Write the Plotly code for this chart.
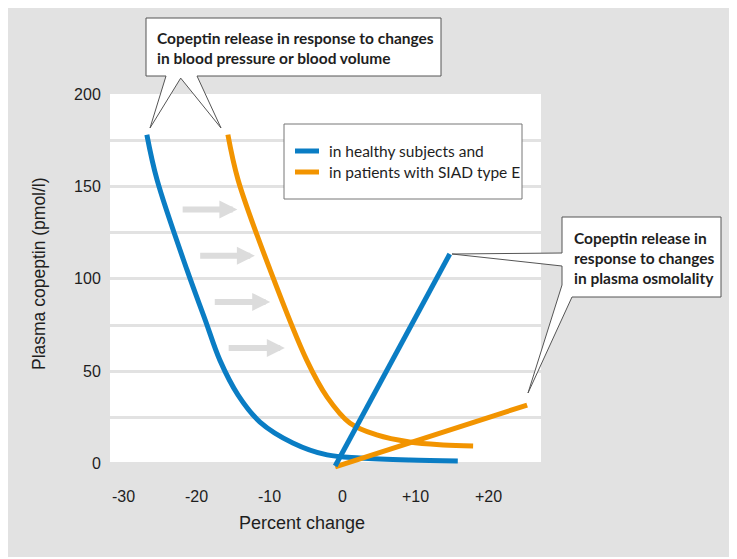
import plotly.graph_objects as go

# values
blue_x = [-26.8, -25.4, -21.3, -18.8, -16.8, -14.3, -11.3, -6.8, -2.1, 2.4, 9.2, 15.8]
blue_y = [178, 153.5, 104.8, 77.7, 56.0, 37.1, 22.5, 11.2, 4.7, 3.0, 1.9, 1.4]
orange_x = [-15.7, -14.3, -9.9, -4.9, -2.1, 1.0, 4.7, 9.2, 13.8, 17.9]
orange_y = [178, 153.5, 104.7, 56.0, 36.0, 22.0, 15.5, 11.7, 10.1, 9.5]
blue_osm_x = [-1.0, 14.7]
blue_osm_y = [-1.3, 113.4]
orange_osm_x = [-1.0, 25.3]
orange_osm_y = [-1.8, 31.7]

arrow_y = [137.5, 112.5, 87.5, 62.5]
arrow_x0 = [-22.1, -19.7, -17.7, -15.8]
arrow_x1 = [-14.4, -12.0, -9.9, -7.9]

x_ticks = [-30, -20, -10, 0, 10, 20]
x_labels = ['-30', '-20', '-10', '0', '+10', '+20']
y_ticks = [0, 25, 50, 75, 100, 125, 150, 175, 200]
y_labels = ['0', '', '50', '', '100', '', '150', '', '200']

BLUE = '#0a7dc4'
ORANGE = '#f29400'
BG = '#e2e2e2'
EDGE = '#555555'
NARROW = 'Lato, Roboto, sans-serif'
REG = 'Liberation Sans, Arial, sans-serif'
INK = '#1e1e1e'

# the page puts the figure 8px in from the corner, so size it to end at the window edge
OFF = 8
W, H = 737 - OFF, 559 - OFF
# plot area in page pixels: x 110..541, y 94..471
L, T = 110 - OFF, 94 - OFF
R, B = W - (541 - OFF), H - (471 - OFF)


def px(x):
    return (x - 110) / 431


def py(y):
    return (471 - y) / 377


def path(points):
    return 'M ' + ' L '.join(f'{px(a)},{py(b)}' for a, b in points) + ' Z'


fig = go.Figure()
fig.add_trace(go.Scatter(x=blue_x, y=blue_y, mode='lines', line=dict(color=BLUE, width=5, shape='spline'),
                         showlegend=False))
fig.add_trace(go.Scatter(x=orange_x, y=orange_y, mode='lines', line=dict(color=ORANGE, width=5, shape='spline'),
                         showlegend=False))
fig.add_trace(go.Scatter(x=orange_osm_x, y=orange_osm_y, mode='lines', line=dict(color=ORANGE, width=5),
                         showlegend=False))
fig.add_trace(go.Scatter(x=blue_osm_x, y=blue_osm_y, mode='lines', line=dict(color=BLUE, width=5),
                         showlegend=False))

shapes = []
# white plotting field
shapes.append(dict(type='rect', xref='paper', yref='y', x0=0, x1=1, y0=0, y1=200,
                   fillcolor='white', line=dict(width=0), layer='below'))
# top callout with two pointers
shapes.append(dict(type='path', xref='paper', yref='paper', fillcolor='white',
                   line=dict(color=EDGE, width=1),
                   path=path([(146, 18), (441, 18), (441, 76), (197, 76), (221, 128), (180.7, 78.1),
                              (150, 128), (166, 76), (146, 76)])))
# right callout with two pointers
shapes.append(dict(type='path', xref='paper', yref='paper', fillcolor='white',
                   line=dict(color=EDGE, width=1),
                   path=path([(562, 217), (721, 217), (721, 297), (572, 297), (528, 393), (562, 285),
                              (562, 266), (452, 254), (562, 253)])))
# legend box
shapes.append(dict(type='rect', xref='paper', yref='paper', x0=px(284), x1=px(522), y0=py(199), y1=py(124),
                   fillcolor='white', line=dict(color='#777777', width=1)))
shapes.append(dict(type='line', xref='paper', yref='paper', x0=px(295), x1=px(319), y0=py(151), y1=py(151),
                   line=dict(color=BLUE, width=5)))
shapes.append(dict(type='line', xref='paper', yref='paper', x0=px(295), x1=px(319), y0=py(172), y1=py(172),
                   line=dict(color=ORANGE, width=5)))
# thin white frame at the right and bottom edges
shapes.append(dict(type='rect', xref='paper', yref='paper', x0=px(0), x1=px(737), y0=py(559), y1=py(0),
                   fillcolor='rgba(0,0,0,0)', line=dict(color='white', width=4)))

annotations = []
for y, x0, x1 in zip(arrow_y, arrow_x0, arrow_x1):
    annotations.append(dict(x=x1, y=y, ax=x0, ay=y, xref='x', yref='y', axref='x', ayref='y', text='',
                            showarrow=True, arrowhead=2, arrowwidth=6, arrowsize=0.6, arrowcolor='#dcdcdc'))

annotations.append(dict(x=px(155), y=py(48), xref='paper', yref='paper', xanchor='left', yanchor='middle',
                        align='left', showarrow=False,
                        text='<b>Copeptin release in response to changes<br>in blood pressure or blood volume</b>',
                        font=dict(family=NARROW, size=15.5, color=INK)))
annotations.append(dict(x=px(572), y=py(258), xref='paper', yref='paper', xanchor='left', yanchor='middle',
                        align='left', showarrow=False,
                        text='<b>Copeptin release in<br>response to changes<br>in plasma osmolality</b>',
                        font=dict(family=NARROW, size=15.5, color=INK)))
annotations.append(dict(x=px(327), y=py(151), xref='paper', yref='paper', xanchor='left', yanchor='middle',
                        showarrow=False, text='in healthy subjects and',
                        font=dict(family=NARROW, size=15.5, color=INK)))
annotations.append(dict(x=px(327), y=py(172), xref='paper', yref='paper', xanchor='left', yanchor='middle',
                        showarrow=False, text='in patients with SIAD type E',
                        font=dict(family=NARROW, size=15.5, color=INK)))
annotations.append(dict(x=px(302), y=py(523), xref='paper', yref='paper', xanchor='center', yanchor='middle',
                        showarrow=False, text='Percent change',
                        font=dict(family=REG, size=18, color=INK)))
annotations.append(dict(x=px(39), y=py(274), xref='paper', yref='paper', xanchor='center', yanchor='middle',
                        showarrow=False, text='Plasma copeptin (pmol/l)', textangle=-90,
                        font=dict(family=REG, size=17.5, color=INK)))

fig.update_layout(
    width=W, height=H,
    margin=dict(l=L, r=R, t=T, b=B),
    paper_bgcolor=BG, plot_bgcolor=BG,
    shapes=shapes, annotations=annotations,
    showlegend=False,
)
fig.update_xaxes(range=[-31.85, 27.2], tickvals=x_ticks, ticktext=x_labels, showgrid=False, zeroline=False,
                 showline=False, ticks='outside', ticklen=11, tickcolor='rgba(0,0,0,0)',
                 tickfont=dict(family=REG, size=16, color=INK))
fig.update_yaxes(range=[-4, 200], tickvals=y_ticks, ticktext=y_labels, showgrid=True, gridcolor=BG,
                 gridwidth=3, zeroline=False, showline=False, ticks='outside', ticklen=5,
                 tickcolor='rgba(0,0,0,0)', tickfont=dict(family=REG, size=16, color=INK))

fig.write_html("out.html")
